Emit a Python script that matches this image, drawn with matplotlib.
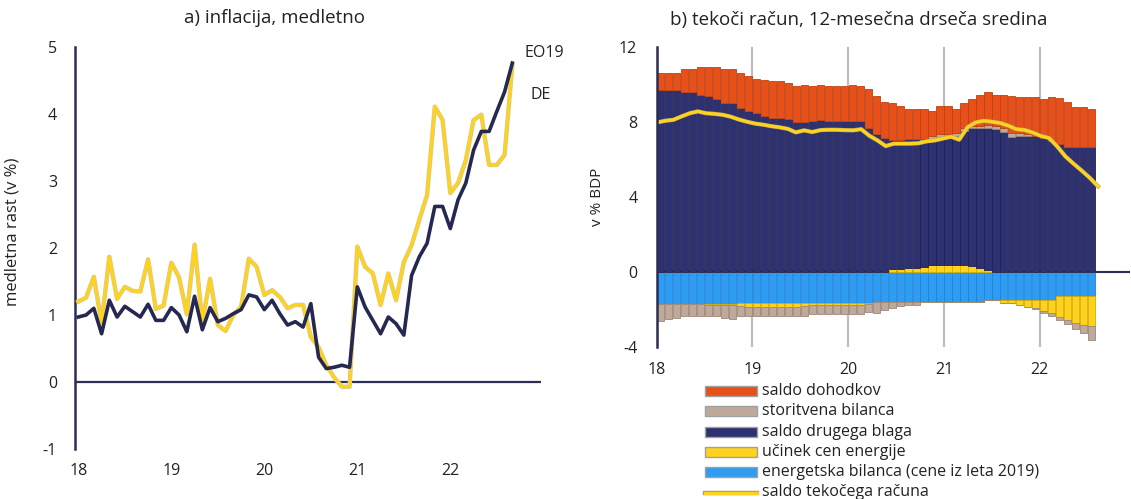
import numpy as np
import matplotlib
matplotlib.use('Agg')
import matplotlib.pyplot as plt
from matplotlib.patches import Rectangle
from matplotlib.lines import Line2D
import matplotlib.patheffects as pe

plt.rcParams['font.family'] = ['Open Sans', 'DejaVu Sans']
plt.rcParams['axes.unicode_minus'] = False

# ---------------- data ----------------
year_labels = ['18', '19', '20', '21', '22']

# a) monthly y/y inflation, Jan 2018 - Sep 2022
infl_eo19 = [0.97, 1.00, 1.10, 0.72, 1.22, 0.97, 1.13, 1.05, 0.97, 1.16, 0.92, 0.92,
             1.11, 1.00, 0.75, 1.28, 0.78, 1.11, 0.90, 0.95, 1.02, 1.08, 1.30, 1.27,
             1.08, 1.22, 1.02, 0.85, 0.90, 0.82, 1.17, 0.37, 0.20, 0.22, 0.25, 0.22,
             1.42, 1.12, 0.92, 0.72, 0.97, 0.87, 0.70, 1.59, 1.87, 2.07, 2.62, 2.62,
             2.29, 2.72, 2.97, 3.46, 3.74, 3.74, 4.04, 4.33, 4.76]
infl_de = [1.20, 1.26, 1.57, 0.88, 1.87, 1.24, 1.42, 1.36, 1.35, 1.83, 1.09, 1.14,
           1.78, 1.56, 1.01, 2.05, 0.90, 1.54, 0.85, 0.76, 1.00, 1.12, 1.84, 1.72,
           1.30, 1.37, 1.27, 1.10, 1.15, 1.15, 0.67, 0.52, 0.25, 0.07, -0.07, -0.07,
           2.02, 1.72, 1.62, 1.15, 1.62, 1.22, 1.79, 2.04, 2.42, 2.79, 4.11, 3.91,
           2.82, 2.97, 3.31, 3.91, 3.99, 3.24, 3.24, 3.39, 4.73]

# b) current account components, 12-month moving average, % of GDP (Jan 2018 - Jul 2022)
saldo_dohodkov = [0.93, 0.93, 0.93, 1.24, 1.24, 1.46, 1.55, 1.69, 1.80, 1.80, 1.87, 1.90,
                  1.84, 1.88, 1.95, 1.95, 1.91, 1.96, 1.99, 1.90, 1.85, 1.88, 1.88, 1.90,
                  1.93, 1.90, 2.07, 2.03, 1.90, 1.96, 1.78, 1.60, 1.60, 1.60, 1.33, 1.50,
                  1.50, 1.28, 1.33, 1.42, 1.65, 1.72, 1.65, 1.77, 1.95, 1.90, 1.98, 2.08,
                  2.07, 2.39, 2.42, 2.39, 2.15, 2.15, 2.03]
storitvena_bilanca = [-0.90, -0.81, -0.75, -0.63, -0.63, -0.63, -0.56, -0.56, -0.68, -0.74, -0.53, -0.48,
                      -0.48, -0.48, -0.48, -0.48, -0.48, -0.48, -0.53, -0.45, -0.45, -0.48, -0.48, -0.48,
                      -0.48, -0.48, -0.45, -0.55, -0.40, -0.28, -0.20, -0.16, -0.14, 0.10, 0.15, 0.20,
                      0.20, 0.15, 0.15, 0.15, 0.15, 0.15, 0.20, 0.20, 0.20, 0.15, 0.10, -0.05,
                      -0.10, -0.15, -0.20, -0.25, -0.30, -0.45, -0.70]
saldo_drugega_blaga = [9.67, 9.67, 9.67, 9.56, 9.56, 9.44, 9.35, 9.21, 9.00, 9.00, 8.73, 8.55,
                       8.46, 8.32, 8.20, 8.20, 8.14, 7.96, 7.96, 8.02, 8.10, 8.02, 8.02, 8.02,
                       8.02, 8.02, 7.67, 7.32, 7.13, 6.92, 6.92, 6.88, 6.88, 6.73, 6.72, 6.77,
                       6.77, 6.90, 7.17, 7.34, 7.44, 7.59, 7.59, 7.47, 7.20, 7.25, 7.22, 7.22,
                       7.13, 6.95, 6.83, 6.65, 6.65, 6.65, 6.65]
ucinek_cen_energije = [0.0, 0.0, 0.0, 0.0, 0.0, 0.0, -0.07, -0.07, -0.07, -0.07, -0.18, -0.23,
                       -0.23, -0.23, -0.23, -0.23, -0.23, -0.23, -0.18, -0.12, -0.12, -0.09, -0.09, -0.09,
                       -0.09, -0.09, -0.05, 0.0, 0.0, 0.12, 0.12, 0.20, 0.20, 0.25, 0.35, 0.35,
                       0.35, 0.35, 0.35, 0.30, 0.20, 0.10, 0.0, -0.18, -0.18, -0.27, -0.36, -0.45,
                       -0.62, -0.71, -1.07, -1.24, -1.42, -1.51, -1.60]
energetska_bilanca = [-1.72] * 10 + [-1.67] * 17 + [-1.63] * 14 + [-1.50] * 9 + [-1.32] * 5
saldo_tekocega_racuna = [7.96, 8.05, 8.10, 8.28, 8.45, 8.55, 8.45, 8.42, 8.37, 8.27, 8.12, 8.00,
                         7.90, 7.84, 7.76, 7.70, 7.62, 7.43, 7.54, 7.45, 7.55, 7.57, 7.57, 7.55,
                         7.54, 7.60, 7.25, 7.00, 6.70, 6.83, 6.83, 6.83, 6.85, 6.95, 7.00, 7.10,
                         7.20, 7.04, 7.70, 7.96, 8.05, 8.00, 7.93, 7.79, 7.60, 7.56, 7.42, 7.24,
                         7.13, 6.68, 6.15, 5.76, 5.39, 5.00, 4.55]

legend_labels = ['saldo dohodkov', 'storitvena bilanca', 'saldo drugega blaga',
                 'učinek cen energije', 'energetska bilanca (cene iz leta 2019)',
                 'saldo tekočega računa']

# ---------------- style ----------------
C_NAVY_LINE = '#252850'
C_AXIS = '#2B2D55'
C_YEL = '#FFD21E'
C_ORANGE = '#E8501A'
C_TAN = '#BFA99A'
C_NAVY = '#2D3170'
C_BLUE = '#2E9CF2'
C_TXT = '#222222'
EDGES = {C_ORANGE: '#C0400F', C_TAN: '#9A877B', C_NAVY: '#1F2255',
         C_YEL: '#D8AC00', C_BLUE: '#1F84D6'}

W, H = 1131, 499
fig = plt.figure(figsize=(W / 100, H / 100), dpi=100)


def fx(px):
    return px / W


def fy(py):
    return 1 - py / H


# ---------------- panel a ----------------
ax1 = fig.add_axes([fx(75), fy(449), fx(541 - 75), (449 - 47) / H])
months = np.arange(len(infl_de))
ax1.plot(months, infl_de, color=C_YEL, lw=2.3, zorder=3,
         path_effects=[pe.Stroke(linewidth=3.2, foreground='#CFCAA8'), pe.Normal()])
ax1.plot(months, infl_eo19, color=C_NAVY_LINE, lw=2.6, zorder=4)
ax1.axhline(0, color=C_AXIS, lw=1.6, zorder=2)
ax1.set_xlim(-0.43, 59.7)
ax1.set_ylim(-1, 5)
ax1.set_yticks(range(-1, 6))
ax1.set_xticks([0, 12, 24, 36, 48])
ax1.set_xticklabels(year_labels)
for s in ['top', 'right', 'bottom']:
    ax1.spines[s].set_visible(False)
ax1.spines['left'].set_color(C_AXIS)
ax1.spines['left'].set_linewidth(1.8)
ax1.tick_params(axis='both', length=0, labelsize=11.5, colors=C_TXT)
ax1.tick_params(axis='y', pad=13)
ax1.tick_params(axis='x', pad=10)
ax1.set_ylabel('medletna rast (v %)', fontsize=12, color=C_TXT)
ax1.yaxis.set_label_coords(-0.118, 0.54)
ax1.text(57.6, 4.91, 'EO19', fontsize=11.5, va='center', ha='left', clip_on=False, color=C_TXT)
ax1.text(58.4, 4.29, 'DE', fontsize=11.5, va='center', ha='left', clip_on=False, color=C_TXT)

fig.text(fx(275), fy(18), 'a) inflacija, medletno', ha='center', va='center',
         fontsize=13.5, color=C_TXT)

# ---------------- panel b ----------------
ax2 = fig.add_axes([fx(656.7), fy(346.7), fx(1130 - 656.7), (346.7 - 46.7) / H])
x = np.arange(len(saldo_drugega_blaga))
series = [(energetska_bilanca, C_BLUE), (ucinek_cen_energije, C_YEL),
          (saldo_drugega_blaga, C_NAVY), (storitvena_bilanca, C_TAN),
          (saldo_dohodkov, C_ORANGE)]
pos_base = np.zeros(len(x))
neg_base = np.zeros(len(x))
for vals, col in series:
    v = np.asarray(vals, dtype=float)
    pos = np.where(v > 0, v, 0)
    neg = np.where(v < 0, v, 0)
    if pos.any():
        ax2.bar(x, pos, bottom=pos_base, width=0.9, color=col,
                edgecolor=EDGES[col], linewidth=0.6, zorder=2)
    if neg.any():
        ax2.bar(x, neg, bottom=neg_base, width=0.9, color=col,
                edgecolor=EDGES[col], linewidth=0.6, zorder=2)
    pos_base = pos_base + pos
    neg_base = neg_base + neg

x_line = np.linspace(-0.46, len(x) - 0.2, len(saldo_tekocega_racuna))
ax2.plot(x_line, saldo_tekocega_racuna, color=C_YEL, lw=2.2, zorder=5,
         path_effects=[pe.Stroke(linewidth=3.0, foreground='#B8A860'), pe.Normal()])
ax2.axhline(0, color=C_AXIS, lw=1.5, zorder=1.5)
ax2.set_xlim(-0.5, 58.8)
ax2.set_ylim(-4, 12)
ax2.set_yticks([-4, 0, 4, 8, 12])
ax2.set_xticks([-0.5, 11.5, 23.5, 35.5, 47.5])
ax2.set_xticklabels(year_labels)
ax2.grid(axis='x', color='#BDBDBD', lw=1.6, zorder=0)
ax2.set_axisbelow(True)
for s in ['top', 'right', 'bottom']:
    ax2.spines[s].set_visible(False)
ax2.spines['left'].set_color(C_AXIS)
ax2.spines['left'].set_linewidth(1.8)
ax2.spines['left'].set_zorder(6)
ax2.tick_params(axis='both', length=0, labelsize=11.5, colors=C_TXT)
ax2.tick_params(axis='y', pad=14)
ax2.tick_params(axis='x', pad=11)
ax2.set_ylabel('v % BDP', fontsize=11, color=C_TXT)
ax2.yaxis.set_label_coords(-0.109, 0.5)

fig.text(fx(859), fy(20), 'b) tekoči račun, 12-mesečna drseča sredina', ha='center',
         va='center', fontsize=13.5, color=C_TXT)

# ---------------- legend (manual) ----------------
leg_cols = [C_ORANGE, C_TAN, C_NAVY, C_YEL, C_BLUE]
row_y = [391 + 20.3 * i for i in range(6)]
for lab, col, ry in zip(legend_labels[:5], leg_cols, row_y[:5]):
    fig.add_artist(Rectangle((fx(705), fy(ry + 5)), fx(52), 10 / H,
                             transform=fig.transFigure, facecolor=col,
                             edgecolor='#A0A0A0', linewidth=1.0))
    fig.text(fx(762), fy(ry), lab, va='center', ha='left', fontsize=11.5, color=C_TXT)
ry = row_y[5]
fig.add_artist(Line2D([fx(705), fx(757)], [fy(ry), fy(ry)], transform=fig.transFigure,
                      color=C_YEL, lw=2.2,
                      path_effects=[pe.Stroke(linewidth=3.2, foreground='#B0A070'), pe.Normal()]))
fig.text(fx(762), fy(ry), legend_labels[5], va='center', ha='left', fontsize=11.5, color=C_TXT)

fig.savefig('out.png', dpi=100)
